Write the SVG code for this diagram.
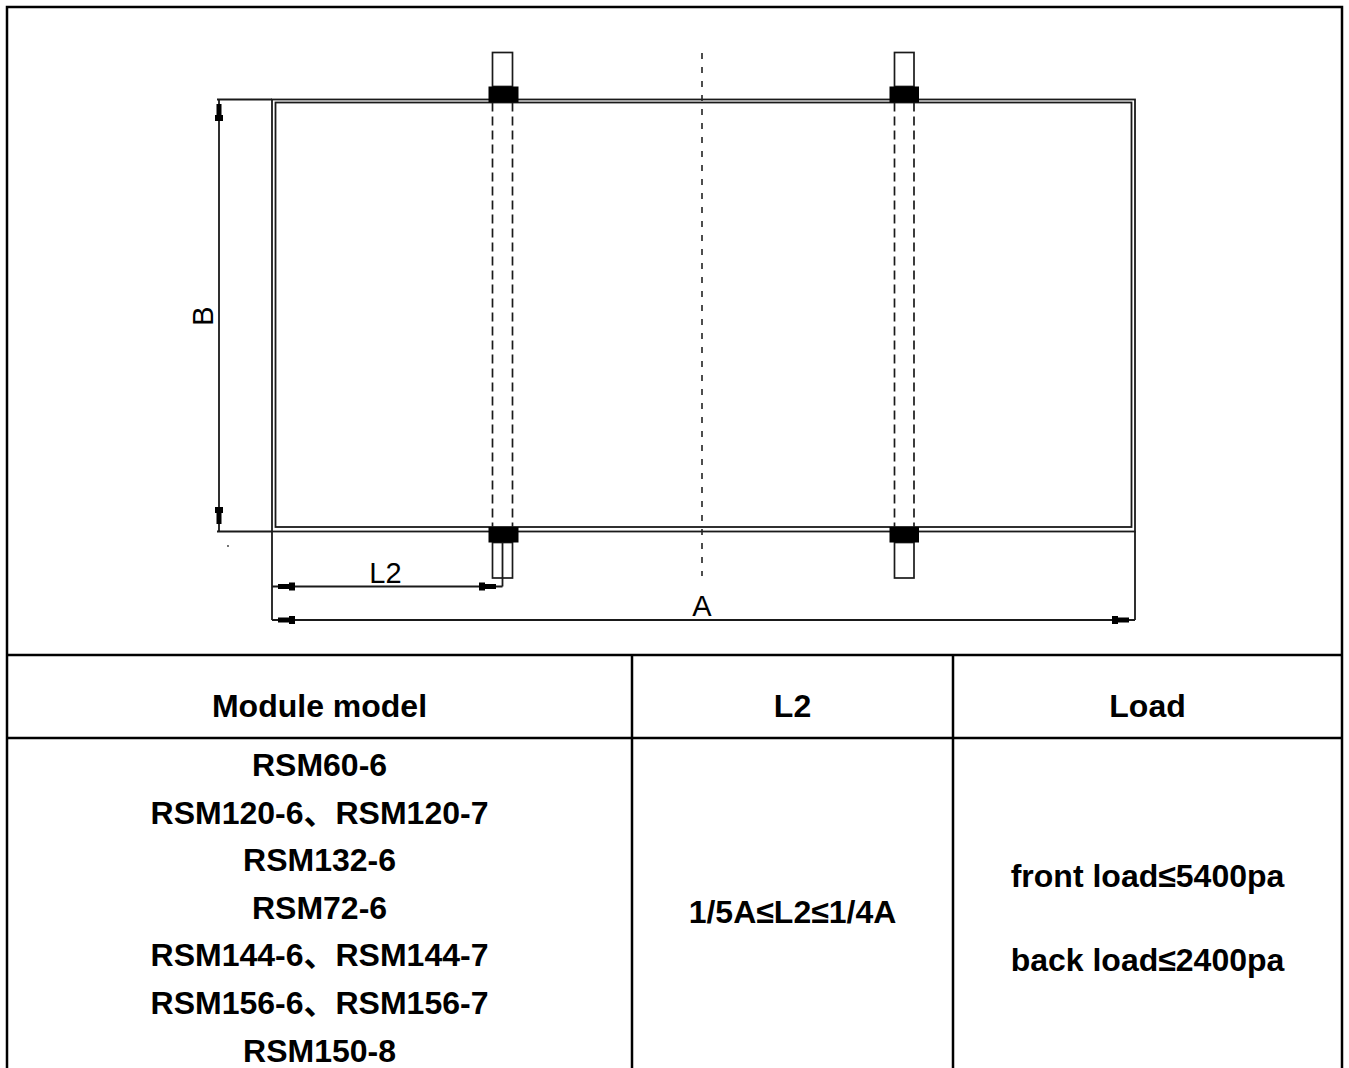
<svg xmlns="http://www.w3.org/2000/svg" xmlns:xlink="http://www.w3.org/1999/xlink" width="1349" height="1068" viewBox="0 0 1349 1068">
<style>
.ln{stroke:#1a1a1a;stroke-width:1.8;fill:none}
.dash{stroke:#1a1a1a;stroke-width:1.7;fill:none;stroke-dasharray:9,5}
.cdash{stroke:#222;stroke-width:1.6;fill:none;stroke-dasharray:6,8}
.tab{stroke:#1a1a1a;stroke-width:1.7;fill:#fff}
.blk{fill:#000}
.frame{stroke:#000;stroke-width:2.5;fill:none}
.dim{font-family:"Liberation Sans",Arial,sans-serif;font-size:29px;fill:#000}
.tt{font-family:"Liberation Sans",Arial,"Noto Sans CJK SC",sans-serif;font-size:32px;font-weight:bold;fill:#000;text-anchor:middle}
</style>
<defs>
<path id="arr" d="M0,-2.5 L11,-2.5 L11,-4 L17,-4 L17,4 L11,4 L11,2.5 L0,2.5 Z" fill="#000"/>
</defs>
<rect width="1349" height="1068" fill="#fff"/>
<g id="frame">
<path class="frame" d="M7,1068 V7 H1342 V1068"/>
<path class="frame" d="M7,655 H1342 M7,738 H1342 M632,655 V1068 M953,655 V1068"/>
</g>
<g id="panel">
<rect class="ln" x="272" y="99.5" width="863" height="432"/>
<rect class="ln" x="275.5" y="102.5" width="856" height="424.5"/>
<line class="cdash" x1="702" y1="53" x2="702" y2="576"/>
</g>
<g id="clamp-left">
<line class="dash" x1="492.5" y1="102.5" x2="492.5" y2="527"/>
<line class="dash" x1="512.5" y1="102.5" x2="512.5" y2="527"/>
<rect class="tab" x="492.5" y="52.5" width="20" height="34"/>
<rect class="blk" x="488.5" y="86.5" width="30" height="16"/>
<rect class="tab" x="492.5" y="542.5" width="20" height="35.5"/>
<rect class="blk" x="488.5" y="527" width="30" height="15.5"/>
<line class="ln" x1="502.5" y1="542.5" x2="502.5" y2="586.5"/>
</g>
<g id="clamp-right">
<line class="dash" x1="894.5" y1="102.5" x2="894.5" y2="527"/>
<line class="dash" x1="914" y1="102.5" x2="914" y2="527"/>
<rect class="tab" x="894.5" y="52.5" width="19.5" height="34"/>
<rect class="blk" x="889.5" y="86.5" width="29.5" height="16"/>
<rect class="tab" x="894.5" y="542.5" width="19.5" height="35.5"/>
<rect class="blk" x="889.5" y="527" width="29.5" height="15.5"/>
</g>
<g id="connectors">
<path class="ln" d="M217,99.5 H272 M217,531.5 H272 M219,99.5 V531.5"/>
<path class="ln" d="M272,531.5 V620 M1135,531.5 V620 M272,586.5 H502.5 M272,620 H1135"/>
<use xlink:href="#arr" transform="translate(219,104) rotate(90)"/>
<use xlink:href="#arr" transform="translate(219,524) rotate(-90)"/>
<use xlink:href="#arr" transform="translate(278,586.5)"/>
<use xlink:href="#arr" transform="translate(496,586.5) scale(-1,1)"/>
<use xlink:href="#arr" transform="translate(278,620)"/>
<use xlink:href="#arr" transform="translate(1129,620) scale(-1,1)"/>
<circle cx="228" cy="546" r="0.9" fill="#333"/>
</g>
<g id="labels">
<text class="dim" x="213" y="316" text-anchor="middle" transform="rotate(-90 213 316)">B</text>
<text class="dim" x="385.5" y="583" text-anchor="middle">L2</text>
<text class="dim" x="702" y="616" text-anchor="middle">A</text>
</g>
<g id="table">
<text class="tt" x="319.5" y="717">Module model</text>
<text class="tt" x="792.5" y="717">L2</text>
<text class="tt" x="1147.5" y="717">Load</text>
<text class="tt" x="319.5" y="775.5">RSM60-6</text>
<text class="tt" x="319.5" y="823.5">RSM120-6、RSM120-7</text>
<text class="tt" x="319.5" y="871">RSM132-6</text>
<text class="tt" x="319.5" y="918.5">RSM72-6</text>
<text class="tt" x="319.5" y="966">RSM144-6、RSM144-7</text>
<text class="tt" x="319.5" y="1014">RSM156-6、RSM156-7</text>
<text class="tt" x="319.5" y="1061.5">RSM150-8</text>
<text class="tt" x="792.5" y="923">1/5A≤L2≤1/4A</text>
<text class="tt" x="1147.5" y="887">front load≤5400pa</text>
<text class="tt" x="1147.5" y="971">back load≤2400pa</text>
</g>
</svg>
